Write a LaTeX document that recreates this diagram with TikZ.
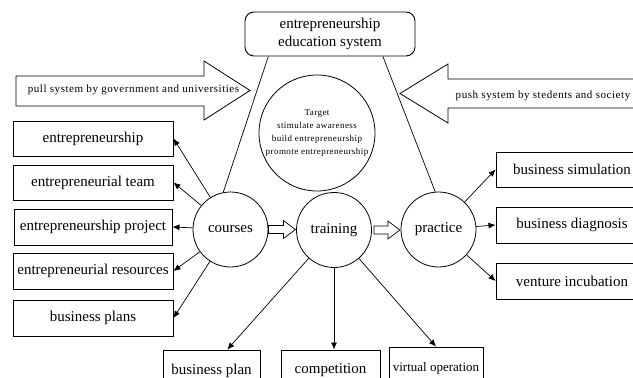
\documentclass[tikz,border=0pt]{standalone}
\usepackage{fontspec}
\setmainfont{Liberation Serif}
\newfontfamily\tightserif[LetterSpace=5]{Liberation Serif}
\usetikzlibrary{arrows.meta,calc}

\begin{document}
\begin{tikzpicture}[x=1pt,y=-1pt,
  every node/.style={font=\fontsize{15}{18}\selectfont},
  box/.style={draw, line width=0.9pt, inner sep=0pt, minimum height=35, align=center},
  circ/.style={draw, circle, line width=0.8pt, inner sep=0pt, minimum size=75},
  link/.style={draw, line width=0.7pt},
  arr/.style={link, -{Latex[length=7pt,width=6pt]}},
  block/.style={draw, line width=0.8pt, line join=miter},
  note/.style={font=\tightserif\fontsize{11}{13}\selectfont, inner sep=0pt}
]
\useasboundingbox (0,0) rectangle (633,378);
\clip (0,0) rectangle (633,378);

% system box at the top
\node[box, rounded corners=9pt, minimum width=170, minimum height=44] (sys) at (330,34)
  {entrepreneurship\\education system};

% block arrows for the two driving forces
\draw[block] (16,76) -- (204,76) -- (204,61) -- (250,90.5) -- (204,120) -- (204,106) -- (16,106) -- cycle;
\node[note] (pull) at (133.5,90) {pull system by government and universities};
\draw[block] (660,79) -- (448,79) -- (448,64) -- (400,93.5) -- (448,123) -- (448,108) -- (660,108);
\node[note] (push) at (543,96) {push system by stedents and society};

% target circle
\node[circ, minimum size=116, align=center,
      font=\tightserif\fontsize{9}{12.7}\selectfont] (target) at (317,133)
  {Target\\stimulate awareness\\build entrepreneurship\\promote entrepreneurship};

% the three stages
\node[circ] (courses)  at (230.5,229.5) {courses};
\node[circ] (training) at (334,230) {training};
\node[circ] (practice) at (438.5,229.5) {practice};

% course contents
\node[box, minimum width=160] (c1) at (93,138.5) {entrepreneurship};
\node[box, minimum width=160] (c2) at (93,182.5) {entrepreneurial team};
\node[box, minimum width=158, minimum height=36] (c3) at (93,227) {entrepreneurship project};
\node[box, minimum width=160, minimum height=36] (c4) at (93,271) {entrepreneurial resources};
\node[box, minimum width=160, minimum height=36] (c5) at (93,318) {business plans};

% practice contents
\node[box, minimum width=152] (p1) at (572,169.5) {business simulation};
\node[box, minimum width=152, minimum height=36] (p2) at (572,225) {business diagnosis};
\node[box, minimum width=152, minimum height=36] (p3) at (572,281) {venture incubation};

% training contents
\node[box, minimum width=97, minimum height=41] (t1) at (211.5,370.5) {business plan};
\node[box, minimum width=99, minimum height=41] (t2) at (330.5,370.5) {competition};
\node[box, minimum width=94, minimum height=42, font=\fontsize{13}{15}\selectfont] (t3) at (436,368) {virtual operation};

% links from the system box
\draw[link] (sys.200) -- (courses.101);
\draw[link] (sys.-23) -- (practice.95);

% course arrows
\foreach \b in {c1,c2,c3,c4,c5} \draw[arr] (courses) -- (\b.east);
% practice arrows
\foreach \b in {p1,p2,p3} \draw[arr] (practice) -- (\b.west);
% training arrows
\draw[arr] (training) -- (t1.53);
\draw[arr] (training.south) -- (training.south |- t2.north);
\draw[arr] (training) -- (t3.north);

% hollow arrows between the stages
\draw[block, line width=0.7pt] ($(courses.east)+(0,-4)$) -- ++(15,0) -- ++(0,-5) -- ++(12,9)
  -- ++(-12,9) -- ++(0,-5) -- ++(-15,0) -- cycle;
\draw[block, line width=0.7pt] ($(training.east)+(2,-4)$) -- ++(14,0) -- ++(0,-5) -- ++(12,9)
  -- ++(-12,9) -- ++(0,-5) -- ++(-14,0) -- cycle;
\end{tikzpicture}
\end{document}
